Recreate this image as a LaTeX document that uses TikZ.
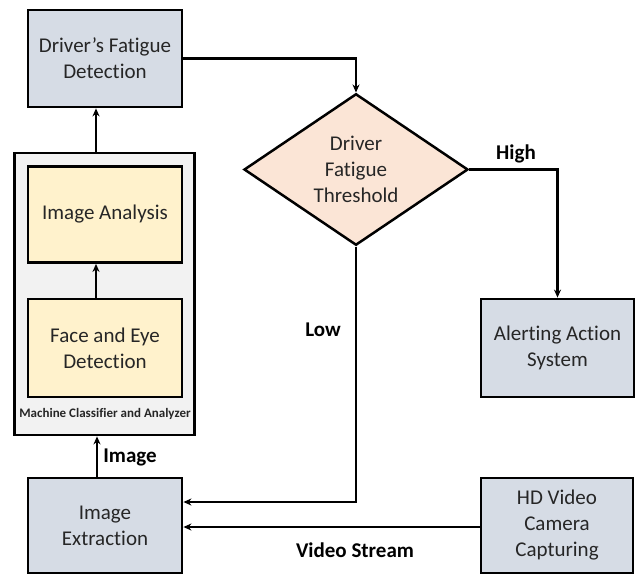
\documentclass[tikz,border=0pt]{standalone}
\usepackage{fontspec}
\setmainfont{Carlito}[Ligatures={NoCommon}]
\usetikzlibrary{shapes.geometric,arrows.meta}
\definecolor{boxgrey}{HTML}{D6DCE5}
\definecolor{boxyellow}{HTML}{FFF2CC}
\definecolor{boxpeach}{HTML}{FBE5D6}
\definecolor{panelgrey}{HTML}{F2F2F2}
\definecolor{inkdark}{HTML}{262626}
\tikzset{
  stagebox/.style={draw=black, line width=2.8pt, fill=boxgrey, minimum width=154pt,
    minimum height=96pt, inner sep=0pt, align=center, text=inkdark,
    font=\fontsize{21}{26}\selectfont},
  innerbox/.style={stagebox, fill=boxyellow},
  panel/.style={draw=black, line width=2.8pt, fill=panelgrey, minimum width=180pt,
    minimum height=282pt, inner sep=0pt},
  decision/.style={diamond, draw=black, line width=2.5pt, fill=boxpeach, minimum width=224pt,
    minimum height=125pt, inner sep=0pt, align=center, text=inkdark,
    font=\fontsize{21}{26}\selectfont},
  flow/.style={draw=black, line width=2.2pt, -{Stealth[length=8pt,width=7pt]}},
  tag/.style={font=\bfseries\fontsize{21}{24}\selectfont, text=black, inner sep=0pt},
  smalltag/.style={font=\bfseries\fontsize{13}{14}\selectfont, text=inkdark, inner sep=0pt}
}
\begin{document}
\begin{tikzpicture}[x=1pt,y=-1pt]
\useasboundingbox (0,0) rectangle (636,575);

% machine classifier panel and its two stages
\node[panel] (panel) at (104.5,294) {};
\node[innerbox] (ana) at (105,214.5) {Image Analysis};
\node[innerbox, minimum height=98pt] (face) at (105,348) {Face and Eye\\Detection};
\node[smalltag] (paneltitle) at (105,414) {Machine Classifier and Analyzer};

% process blocks
\node[stagebox, minimum height=97pt] (det) at (105,58.5) {Driver’s Fatigue\\Detection};
\node[stagebox, minimum height=95pt] (ext) at (105,525.5) {Image\\Extraction};
\node[stagebox, minimum width=152pt, minimum height=95pt] (hd) at (557,525.5) {HD Video\\Camera\\Capturing};
\node[stagebox, minimum width=153pt, minimum height=98pt] (alert) at (557.5,348) {Alerting Action\\System};
\node[decision] (thr) at (356,169.5) {Driver\\Fatigue\\Threshold};

% bend points
\coordinate (c1) at (356,58.5);
\coordinate (c2) at (557.5,169.5);
\coordinate (c3) at (356,502);

% connectors
\draw[flow] (det.east) -- (c1) -- (thr.north);
\draw[flow] (thr.east) -- (c2) -- (alert.north);
\draw[flow] (thr.south) -- (c3) -- (ext.east |- c3);
\draw[flow] (hd.west |- 0,527) -- (ext.east |- 0,527);
\draw[flow] (ext.north -| 97,0) -- (panel.south -| 97,0);
\draw[flow] (panel.north -| 96,0) -- (det.south -| 96,0);
\draw[flow] (face.north -| 96,0) -- (ana.south -| 96,0);

% connector labels
\node[tag] (lhigh) at (516,154) {High};
\node[tag] (llow) at (323,330) {Low};
\node[tag] (limage) at (130,457) {Image};
\node[tag] (lvideo) at (355,550) {Video Stream};
\end{tikzpicture}
\end{document}
